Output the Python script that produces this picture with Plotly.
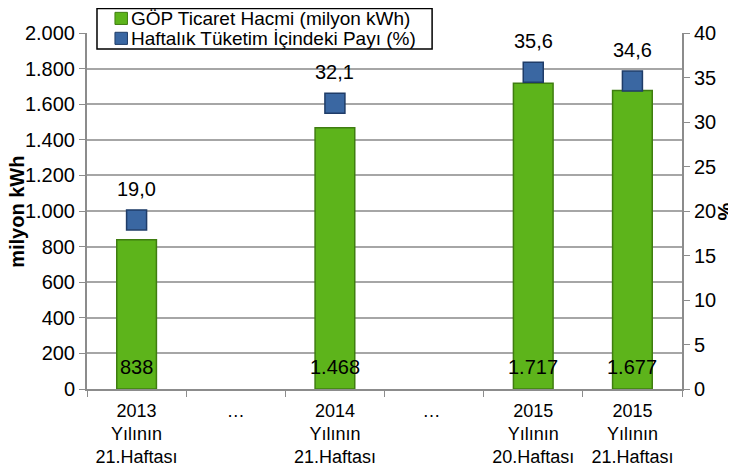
import plotly.graph_objects as go

categories = [
    "2013<br>Yılının<br>21.Haftası",
    "…",
    "2014<br>Yılının<br>21.Haftası",
    "… ",
    "2015<br>Yılının<br>20.Haftası",
    "2015<br>Yılının<br>21.Haftası",
]
volume = [838, None, 1468, None, 1717, 1677]       # milyon kWh
share = [19.0, None, 32.1, None, 35.6, 34.6]        # %
series_names = ["GÖP Ticaret Hacmi (milyon kWh)", "Haftalık Tüketim İçindeki Payı (%)"]

FONT = "Liberation Sans, Arial, sans-serif"
GRID = "#a6a6a6"
AXIS = "#8c8c8c"
GREEN, GREEN_DARK = "#5db41b", "#3f7d10"
BLUE, BLUE_DARK = "#3a67a2", "#1f3c68"

fig = go.Figure()

fig.add_trace(go.Bar(
    x=categories,
    y=volume,
    name=series_names[0],
    width=0.4,
    marker=dict(color=GREEN, line=dict(color=GREEN_DARK, width=1.5)),
    showlegend=False,
))

fig.add_trace(go.Scatter(
    x=categories,
    y=share,
    name=series_names[1],
    mode="markers",
    yaxis="y2",
    marker=dict(symbol="square", size=20, color=BLUE,
                line=dict(color=BLUE_DARK, width=1.5)),
    showlegend=False,
))

# değer etiketleri
for c, v in zip(categories, volume):
    if v is None:
        continue
    fig.add_annotation(
        x=c, y=0, xref="x", yref="y", yanchor="bottom",
        text=f"{v:,}".replace(",", "."), showarrow=False, yshift=9,
        font=dict(size=20, color="black", family=FONT),
    )

for c, v in zip(categories, share):
    if v is None:
        continue
    fig.add_annotation(
        x=c, y=v, xref="x", yref="y2", yanchor="middle",
        text=f"{v:.1f}".replace(".", ","), showarrow=False, yshift=31,
        font=dict(size=20, color="black", family=FONT),
    )

fig.add_annotation(
    x=-0.118, y=0.497, xref="paper", yref="paper", textangle=-90,
    xanchor="center", yanchor="middle",
    text="<b>milyon kWh</b>", showarrow=False,
    font=dict(size=20, color="black", family=FONT),
)
fig.add_annotation(
    x=1.073, y=0.5, xref="paper", yref="paper", textangle=-90,
    xanchor="center", yanchor="middle",
    text="<b>%</b>", showarrow=False,
    font=dict(size=20, color="black", family=FONT),
)

# lejant: Excel'deki sıkı kutuyu taklit etmek için elle çiziliyor
fig.add_shape(type="rect", xref="paper", yref="paper",
              x0=0.0168, x1=0.580, y0=0.955, y1=1.069,
              fillcolor="white", line=dict(color="black", width=1.5), layer="above")
rows_y = [1.041, 0.985]
for name, yy, col, dark in zip(series_names, rows_y, [GREEN, BLUE], [GREEN_DARK, BLUE_DARK]):
    fig.add_shape(type="rect", xref="paper", yref="paper",
                  x0=0.047, x1=0.068, y0=yy - 0.017, y1=yy + 0.017,
                  fillcolor=col, line=dict(color=dark, width=1), layer="above")
    fig.add_annotation(
        x=0.071, y=yy, xref="paper", yref="paper", xanchor="left", yanchor="middle",
        text=name, showarrow=False,
        font=dict(size=19, color="black", family=FONT),
    )

# sayfa gövdesi 8 px kenar boşluğu ekliyor; boyutlar buna göre
fig.update_layout(
    width=728,
    height=455,
    margin=dict(l=79, r=54, t=25, b=74, autoexpand=False),
    paper_bgcolor="white",
    plot_bgcolor="white",
    separators=",.",
    font=dict(family=FONT, size=20, color="black"),
    showlegend=False,
    xaxis=dict(
        type="category",
        categoryorder="array",
        categoryarray=categories,
        tickson="boundaries",
        ticks="outside",
        ticklen=6,
        tickcolor=AXIS,
        showline=True,
        linecolor=AXIS,
        linewidth=2,
        showgrid=False,
        tickfont=dict(size=18),
        ticklabelstandoff=4,
        automargin=False,
    ),
    yaxis=dict(
        range=[0, 2000],
        dtick=200,
        tickformat=",",
        ticks="outside",
        ticklen=6,
        tickcolor=AXIS,
        showline=True,
        linecolor=AXIS,
        linewidth=2,
        showgrid=True,
        gridcolor=GRID,
        gridwidth=1.5,
        zeroline=False,
        automargin=False,
    ),
    yaxis2=dict(
        overlaying="y",
        side="right",
        range=[0, 40],
        dtick=5,
        ticks="outside",
        ticklen=6,
        tickcolor=AXIS,
        showline=True,
        linecolor=AXIS,
        linewidth=2,
        showgrid=False,
        zeroline=False,
        automargin=False,
    ),
)

fig.write_html("out.html")
